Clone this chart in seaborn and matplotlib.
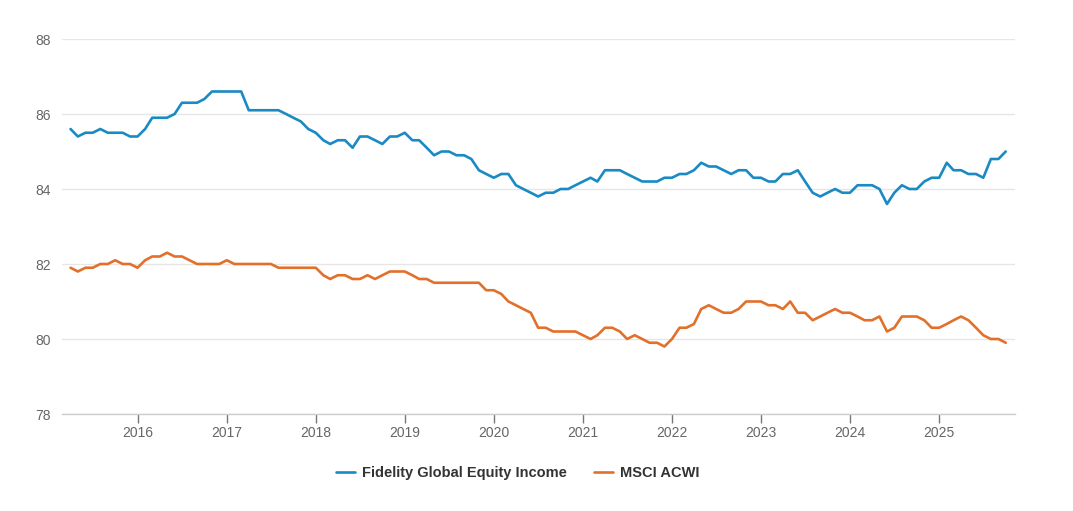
import pandas as pd
import seaborn as sns
import matplotlib.pyplot as plt
import matplotlib.dates as mdates

# monthly series, Apr 2015 .. Oct 2025
dates = pd.date_range("2015-04-01", "2025-10-01", freq="MS")

fidelity = [
    85.6, 85.4, 85.5, 85.5, 85.6, 85.5, 85.5, 85.5, 85.4, 85.4,
    85.6, 85.9, 85.9, 85.9, 86.0, 86.3, 86.3, 86.3, 86.4, 86.6,
    86.6, 86.6, 86.6, 86.6, 86.1, 86.1, 86.1, 86.1, 86.1, 86.0,
    85.9, 85.8, 85.6, 85.5, 85.3, 85.2, 85.3, 85.3, 85.1, 85.4,
    85.4, 85.3, 85.2, 85.4, 85.4, 85.5, 85.3, 85.3, 85.1, 84.9,
    85.0, 85.0, 84.9, 84.9, 84.8, 84.5, 84.4, 84.3, 84.4, 84.4,
    84.1, 84.0, 83.9, 83.8, 83.9, 83.9, 84.0, 84.0, 84.1, 84.2,
    84.3, 84.2, 84.5, 84.5, 84.5, 84.4, 84.3, 84.2, 84.2, 84.2,
    84.3, 84.3, 84.4, 84.4, 84.5, 84.7, 84.6, 84.6, 84.5, 84.4,
    84.5, 84.5, 84.3, 84.3, 84.2, 84.2, 84.4, 84.4, 84.5, 84.2,
    83.9, 83.8, 83.9, 84.0, 83.9, 83.9, 84.1, 84.1, 84.1, 84.0,
    83.6, 83.9, 84.1, 84.0, 84.0, 84.2, 84.3, 84.3, 84.7, 84.5,
    84.5, 84.4, 84.4, 84.3, 84.8, 84.8, 85.0,
]

msci = [
    81.9, 81.8, 81.9, 81.9, 82.0, 82.0, 82.1, 82.0, 82.0, 81.9,
    82.1, 82.2, 82.2, 82.3, 82.2, 82.2, 82.1, 82.0, 82.0, 82.0,
    82.0, 82.1, 82.0, 82.0, 82.0, 82.0, 82.0, 82.0, 81.9, 81.9,
    81.9, 81.9, 81.9, 81.9, 81.7, 81.6, 81.7, 81.7, 81.6, 81.6,
    81.7, 81.6, 81.7, 81.8, 81.8, 81.8, 81.7, 81.6, 81.6, 81.5,
    81.5, 81.5, 81.5, 81.5, 81.5, 81.5, 81.3, 81.3, 81.2, 81.0,
    80.9, 80.8, 80.7, 80.3, 80.3, 80.2, 80.2, 80.2, 80.2, 80.1,
    80.0, 80.1, 80.3, 80.3, 80.2, 80.0, 80.1, 80.0, 79.9, 79.9,
    79.8, 80.0, 80.3, 80.3, 80.4, 80.8, 80.9, 80.8, 80.7, 80.7,
    80.8, 81.0, 81.0, 81.0, 80.9, 80.9, 80.8, 81.0, 80.7, 80.7,
    80.5, 80.6, 80.7, 80.8, 80.7, 80.7, 80.6, 80.5, 80.5, 80.6,
    80.2, 80.3, 80.6, 80.6, 80.6, 80.5, 80.3, 80.3, 80.4, 80.5,
    80.6, 80.5, 80.3, 80.1, 80.0, 80.0, 79.9,
]

series_names = ["Fidelity Global Equity Income", "MSCI ACWI"]
colors = ["#1a8ac5", "#e2702a"]
y_ticks = [78, 80, 82, 84, 86, 88]

df = pd.concat([
    pd.DataFrame({"date": dates, "value": fidelity, "series": series_names[0]}),
    pd.DataFrame({"date": dates, "value": msci, "series": series_names[1]}),
])

sns.set_theme(style="white")
plt.rcParams["font.family"] = ["Liberation Sans", "DejaVu Sans"]

fig = plt.figure(figsize=(10.73, 5.11), dpi=100)
ax = fig.add_axes([62 / 1073, 1 - 414 / 511, (1015 - 62) / 1073, (414 - 39) / 511])

sns.lineplot(data=df, x="date", y="value", hue="series", palette=colors,
             linewidth=1.9, ax=ax, legend=True)

ax.set_ylim(78, 88)
ax.set_yticks(y_ticks)
ax.set_xlim(dates[0] - pd.Timedelta(days=35), dates[-1] + pd.Timedelta(days=38))
ax.xaxis.set_major_locator(mdates.YearLocator())
ax.xaxis.set_major_formatter(mdates.DateFormatter("%Y"))

ax.grid(axis="y", color="#e6e6e6", linewidth=1)
ax.set_axisbelow(True)
for s in ["top", "right", "left"]:
    ax.spines[s].set_visible(False)
ax.spines["bottom"].set_color("#cccccc")
ax.spines["bottom"].set_linewidth(1)

ax.tick_params(axis="x", length=6.5, width=1, color="#777777", colors="#666666",
               labelsize=10, pad=2, bottom=True)
ax.tick_params(axis="y", length=0, colors="#666666", labelsize=10, pad=8)
ax.set_xlabel("")
ax.set_ylabel("")

handles, labels = ax.get_legend_handles_labels()
ax.get_legend().remove()
leg = fig.legend(handles, labels, loc="center", bbox_to_anchor=(518 / 1073, 1 - 473 / 511),
                 ncol=2, frameon=False, handlelength=1.3, handletextpad=0.5,
                 columnspacing=1.85, prop={"weight": "bold", "size": 10.5})
for t in leg.get_texts():
    t.set_color("#333333")

fig.savefig("out.png", dpi=100)
